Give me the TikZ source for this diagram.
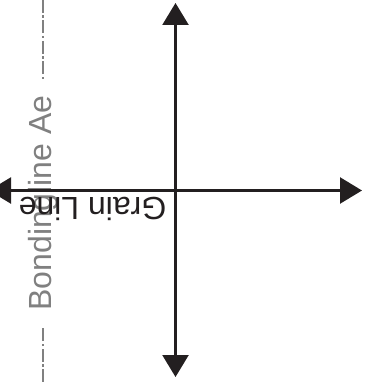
\documentclass[tikz,border=0pt]{standalone}
\usepackage{fontspec}
\setmainfont{Liberation Sans}
\usetikzlibrary{arrows.meta}
\definecolor{axiscolor}{RGB}{35,31,32}
\definecolor{bondcolor}{RGB}{128,128,128}
\begin{document}
\begin{tikzpicture}[x=1pt,y=-1pt
,axis/.style={color=axiscolor,line width=2.4pt,{Triangle[length=22pt,width=26pt]}-{Triangle[length=22pt,width=26pt]}}
,bondline/.style={color=bondcolor,line width=2pt,dash pattern=on 13pt off 2.5pt on 2.5pt off 2.5pt}
,bondlabel/.style={color=bondcolor,font=\fontsize{32}{32}\selectfont,rotate=90,anchor=base,inner xsep=16pt}
,grainlabel/.style={color=axiscolor,font=\fontsize{32}{32}\selectfont,rotate=180,anchor=base}
]
\useasboundingbox (0,0) rectangle (364,382);
% bonding line
\node[bondlabel] (bond) at (51.7,203) {Bondingline Ae};
\coordinate (bondtop) at (42.5,0);
\coordinate (bondbottom) at (42.5,382);
\draw[bondline] (bondtop) -- (bondtop |- bond.east);
\draw[bondline] (bondbottom) -- (bondbottom |- bond.west);
% axes
\coordinate (north) at (175.5,3);
\coordinate (south) at (175.5,377);
\coordinate (west) at (-11,190.5);
\coordinate (east) at (362,190.5);
\draw[axis] (south) -- (north);
\draw[axis] (west) -- (east);
\node[grainlabel] (grain) at (92.5,197) {Grain Line};
\end{tikzpicture}
\end{document}
